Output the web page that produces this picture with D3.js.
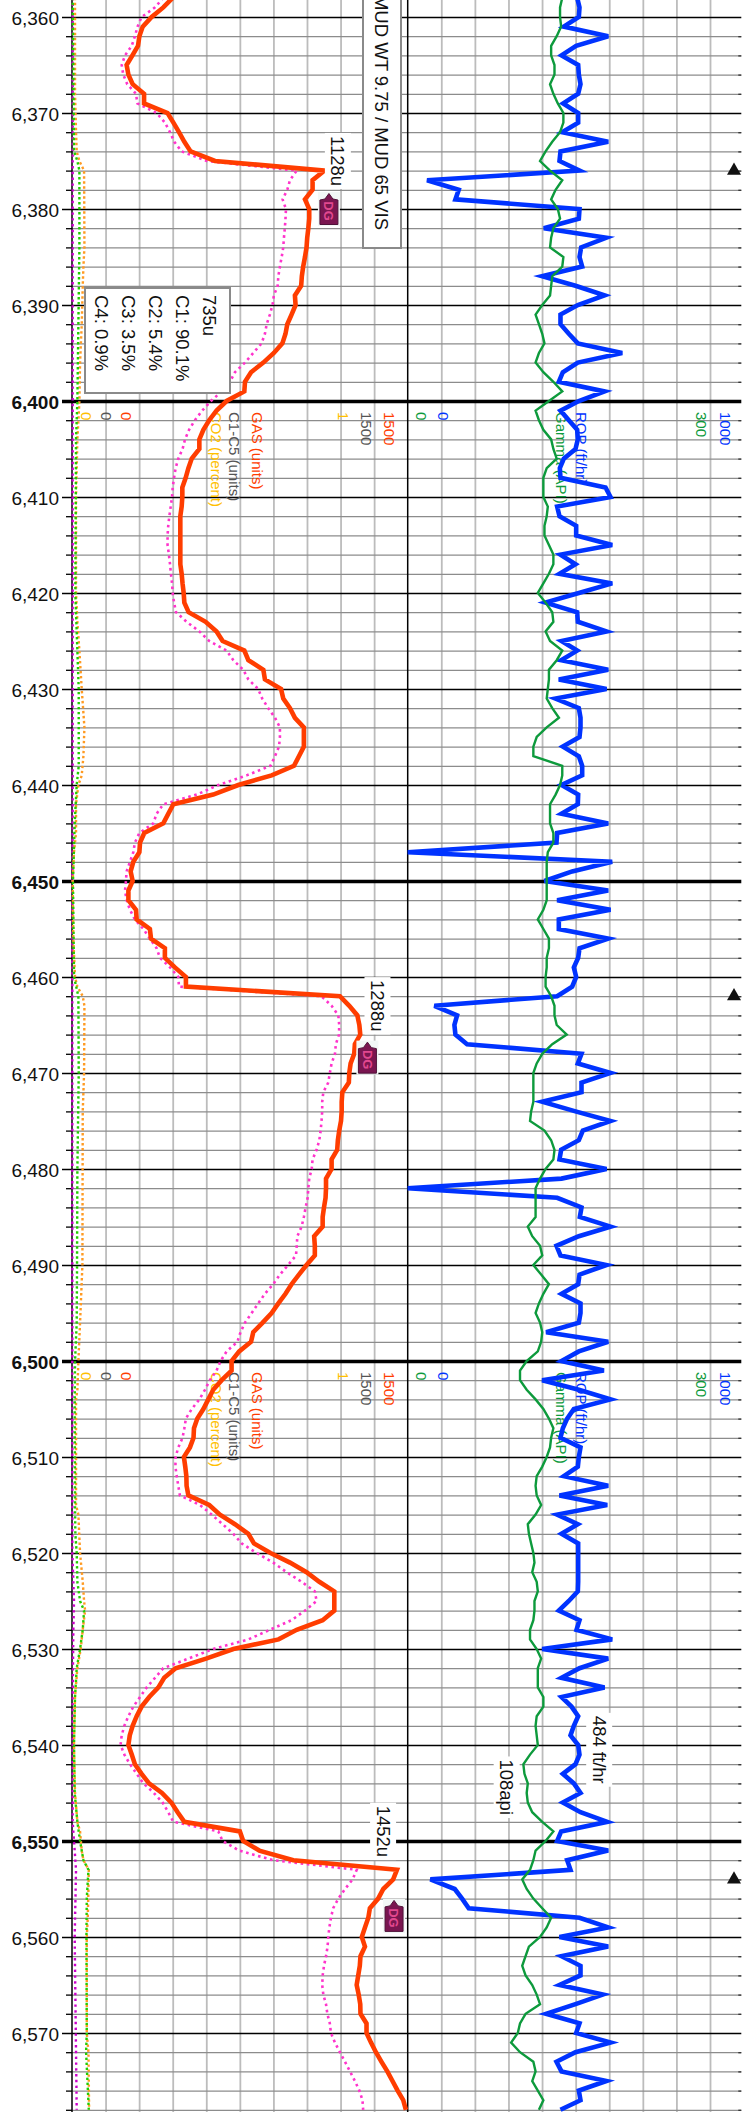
<!DOCTYPE html>
<html>
<head>
<meta charset="utf-8">
<title>Mud log</title>
<script src="https://cdn.jsdelivr.net/npm/d3@7"></script>
<style>
    body { margin: 0; background: #fff; }
    svg { display: block; }
    text { font-family: "Liberation Sans", Arial, sans-serif; }
</style>
</head>
<body>
<div id="chart"></div>
<script>
// every curve is sampled once per foot, first sample at 6358 ft, 10 values per row
const firstDepth = 6358;

const gasUnits = [
    450, 408, 356, 316, 301, 295, 270, 244, 252, 271,
    322, 322, 427, 453, 478, 502, 530, 639, 1128, 1075,
    1075, 1041, 1060, 1060, 1056, 1051, 1048, 1041, 1033, 1027,
    1024, 996, 999, 981, 962, 954, 940, 902, 855, 800,
    773, 770, 691, 646, 613, 587, 569, 569, 535, 520,
    508, 493, 493, 490, 484, 484, 484, 484, 484, 484,
    490, 494, 499, 502, 521, 597, 646, 673, 770, 788,
    855, 862, 934, 944, 974, 996, 1036, 1036, 1036, 1014,
    992, 892, 743, 631, 453, 430, 408, 323, 304, 301,
    274, 262, 271, 252, 252, 286, 289, 348, 353, 415,
    415, 460, 509, 509, 1197, 1239, 1275, 1284, 1288, 1264,
    1261, 1245, 1239, 1237, 1208, 1205, 1205, 1202, 1194, 1188,
    1185, 1160, 1160, 1135, 1135, 1133, 1126, 1120, 1120, 1082,
    1085, 1085, 1048, 1014, 981, 954, 922, 892, 852, 810,
    800, 747, 713, 713, 669, 631, 609, 587, 560, 545,
    543, 527, 500, 506, 511, 512, 520, 613, 661, 728,
    788, 813, 887, 974, 1048, 1105, 1172, 1172, 1172, 1120,
    1004, 923, 721, 599, 463, 412, 386, 345, 311, 289,
    271, 258, 252, 267, 281, 311, 344, 402, 444, 472,
    502, 750, 765, 837, 989, 1452, 1435, 1391, 1368, 1331,
    1324, 1309, 1295, 1309, 1289, 1286, 1279, 1272, 1281, 1288,
    1289, 1316, 1316, 1336, 1358, 1383, 1409, 1432, 1455, 1480,
    1492
];

const c1c5Units = [
    408, 371, 311, 293, 281, 267, 237, 222, 229, 247,
    286, 292, 378, 415, 438, 457, 490, 602, 1004, 974,
    962, 941, 956, 954, 951, 947, 944, 937, 929, 922,
    919, 902, 896, 884, 870, 862, 847, 810, 773, 728,
    706, 669, 621, 582, 549, 523, 505, 494, 475, 463,
    456, 450, 447, 441, 435, 430, 427, 427, 433, 438,
    442, 447, 450, 456, 465, 512, 569, 613, 691, 721,
    765, 788, 832, 850, 877, 907, 929, 929, 925, 907,
    887, 780, 654, 557, 408, 378, 363, 301, 281, 274,
    259, 244, 241, 237, 244, 259, 281, 319, 348, 378,
    393, 438, 475, 478, 1115, 1160, 1190, 1194, 1193, 1179,
    1175, 1160, 1152, 1145, 1123, 1118, 1118, 1115, 1111, 1105,
    1093, 1075, 1071, 1060, 1056, 1053, 1044, 1036, 1026, 1007,
    1004, 1001, 966, 929, 899, 862, 832, 803, 773, 753,
    739, 691, 664, 646, 616, 594, 569, 535, 509, 502,
    494, 475, 463, 462, 468, 475, 482, 572, 624, 673,
    721, 758, 825, 899, 959, 1026, 1085, 1093, 1041, 981,
    884, 788, 631, 520, 408, 371, 334, 304, 274, 252,
    234, 222, 217, 234, 259, 289, 319, 366, 405, 430,
    453, 654, 673, 747, 899, 1272, 1254, 1220, 1190, 1167,
    1157, 1150, 1145, 1142, 1135, 1126, 1120, 1118, 1123, 1135,
    1141, 1152, 1157, 1175, 1197, 1220, 1242, 1264, 1284, 1298,
    1301
];

const gammaApi = [
    139, 137, 137, 138, 134, 129, 129, 132, 132, 128,
    131, 135, 140, 140, 137, 130, 124, 119, 128, 139,
    133, 129, 135, 137, 131, 129, 128, 140, 139, 130,
    129, 128, 121, 115, 118, 121, 123, 118, 115, 122,
    131, 139, 127, 115, 118, 122, 129, 131, 134, 125,
    122, 122, 122, 126, 125, 123, 123, 127, 131, 131,
    127, 122, 117, 124, 130, 131, 124, 128, 139, 134,
    127, 127, 126, 125, 130, 136, 125, 116, 113, 113,
    139, 139, 137, 133, 128, 128, 128, 131, 131, 126,
    125, 125, 125, 125, 125, 122, 117, 122, 127, 127,
    125, 125, 124, 124, 129, 132, 132, 134, 143, 130,
    121, 116, 113, 113, 113, 113, 111, 110, 123, 129,
    132, 131, 124, 119, 115, 115, 115, 115, 108, 112,
    119, 121, 113, 120, 127, 122, 118, 115, 119, 121,
    120, 117, 107, 101, 101, 107, 115, 122, 127, 131,
    129, 128, 125, 121, 116, 115, 116, 120, 115, 108,
    109, 111, 113, 114, 112, 116, 117, 114, 114, 113,
    110, 110, 116, 120, 117, 117, 117, 122, 122, 116,
    115, 116, 117, 110, 104, 105, 108, 107, 108, 112,
    121, 131, 124, 115, 113, 110, 103, 107, 113, 121,
    129, 125, 119, 109, 106, 103, 106, 112, 116, 119,
    106, 101, 99, 93, 101, 113, 115, 112, 117, 122,
    118
];

const ropFtHr = [
    508, 515, 513, 468, 601, 505, 461, 511, 513, 518,
    511, 466, 511, 511, 463, 601, 458, 455, 515, 58,
    153, 143, 515, 513, 408, 595, 520, 515, 523, 403,
    503, 590, 510, 458, 458, 483, 510, 643, 510, 465,
    453, 590, 513, 458, 483, 508, 510, 503, 468, 456,
    458, 593, 608, 448, 455, 505, 505, 613, 458, 503,
    455, 613, 513, 413, 508, 510, 596, 461, 508, 460,
    601, 453, 596, 443, 513, 518, 518, 515, 465, 513,
    523, 523, 461, 511, 510, 461, 601, 448, 446, 0,
    613, 493, 410, 601, 448, 608, 453, 453, 601, 515,
    511, 498, 505, 493, 448, 80, 148, 140, 143, 178,
    521, 510, 608, 521, 521, 403, 503, 608, 525, 513,
    460, 455, 596, 461, 0, 448, 521, 516, 608, 513,
    446, 458, 596, 515, 511, 461, 518, 518, 513, 415,
    601, 513, 461, 588, 403, 513, 608, 498, 478, 465,
    458, 518, 513, 510, 468, 601, 455, 598, 448, 510,
    461, 511, 511, 511, 511, 511, 510, 483, 453, 515,
    506, 613, 403, 601, 515, 461, 590, 461, 491, 511,
    498, 488, 511, 515, 503, 465, 498, 518, 465, 518,
    598, 460, 448, 601, 478, 488, 68, 141, 163, 183,
    515, 601, 455, 601, 461, 518, 518, 455, 585, 503,
    415, 515, 505, 608, 503, 446, 461, 596, 513, 518,
    458
];

// the three low percent curves by the left edge barely move, so [depth, percent] knots
const co2Pct = [
    [6358, .009], [6368, .009], [6372, .012], [6374, .014], [6375, .022], [6376, .036], [6384, .037], [6386, .034],
    [6388, .032], [6392, .029], [6396, .024], [6400, .022], [6402, .019], [6404, .016], [6410, .012], [6420, .012],
    [6423, .016], [6426, .022], [6430, .029], [6434, .037], [6437, .034], [6439, .029], [6440, .019], [6442, .012],
    [6445, .012], [6447, .006], [6450, .002], [6456, .004], [6460, .009], [6461, .016], [6462, .032], [6463, .037],
    [6470, .036], [6474, .032], [6490, .031], [6496, .024], [6500, .019], [6503, .016], [6504, .012], [6515, .012],
    [6516, .019], [6520, .024], [6523, .032], [6525, .036], [6526, .039], [6528, .032], [6530, .026], [6532, .016],
    [6535, .009], [6540, .006], [6545, .009], [6548, .016], [6549, .024], [6551, .029], [6552, .034], [6553, .05],
    [6555, .049], [6558, .047], [6560, .044], [6570, .044], [6572, .049], [6578, .051]
];
const greenPct = [
    [6358, .002], [6374, .006], [6375, .016], [6376, .022], [6384, .022], [6400, .016], [6404, .012], [6420, .01],
    [6426, .016], [6430, .02], [6438, .02], [6440, .014], [6444, .008], [6450, .003], [6460, .006], [6462, .019],
    [6470, .02], [6480, .016], [6490, .015], [6496, .014], [6500, .009], [6505, .008], [6515, .009], [6518, .01],
    [6520, .014], [6523, .016], [6525, .024], [6526, .036], [6528, .032], [6530, .024], [6532, .014], [6535, .009],
    [6540, .006], [6545, .008], [6548, .016], [6550, .024], [6551, .029], [6552, .034], [6553, .049], [6556, .044],
    [6560, .043], [6570, .044], [6572, .042], [6575, .046], [6578, .05]
];
const purplePct = [
    [6358, .002], [6440, .002], [6460, .001], [6520, .001], [6525, .006], [6528, .004], [6535, .002], [6548, .002],
    [6553, .012], [6560, .008], [6578, .014]
];

// boxes and value labels, all written along the depth axis
const infoLines = ['735u', 'C1: 90.1%', 'C2: 5.4%', 'C3: 3.5%', 'C4: 0.9%'];
const mudNote = 'MUD WT 9.75 / MUD 65 VIS';
const gasPeaks = [
    { label: '1128u', depth: 6375, units: 1188 },
    { label: '1288u', depth: 6463, units: 1365 },
    { label: '1452u', depth: 6549, units: 1390 }
];
const readouts = [
    { label: '484 ft/hr', depth: 6540.5, rop: 574 },
    { label: '108api', depth: 6544.4, api: 89 }
];
const badges = [
    { depth: 6380, units: 1148 },
    { depth: 6468.4, units: 1320 },
    { depth: 6557.8, units: 1439 }
];
const pickDepths = [6376, 6462, 6554];
const headerDepths = [6400, 6500];

const width = 743,
    height = 2112,
    axisX = 72,
    midX = 407.7,
    endX = 741.3;

const depths = gasUnits.map((d, i) => firstDepth + i);

const y = d3.scaleLinear().domain([6360, 6570]).range([17, 2033]);
const xGas = d3.scaleLinear().domain([0, 1500]).range([axisX, midX]);
const xPct = d3.scaleLinear().domain([0, 1]).range([axisX, midX]);
const xRop = d3.scaleLinear().domain([0, 1000]).range([midX, endX]);
const xGamma = d3.scaleLinear().domain([0, 300]).range([midX, endX]);
const gridLeft = d3.scaleLinear().domain([0, 10]).range([axisX, midX]);
const gridRight = d3.scaleLinear().domain([0, 10]).range([midX, 743.6]);

const svg = d3.select('#chart')
    .append('svg')
    .attr('width', width)
    .attr('height', height);

// vertical grid
const hGrid = d3.range(depths[0], depths[depths.length - 1] + 1);
[gridLeft, gridRight].forEach((scale) => {
    svg.append('g')
        .attr('transform', 'translate(0,0)')
        .call(d3.axisBottom(scale).tickValues(d3.range(1, 10)).tickSize(height).tickFormat(''))
        .call((g) => g.select('.domain').remove())
        .selectAll('.tick line')
        .attr('stroke', '#bcbcbc')
        .attr('stroke-width', 1.8);
});

// 2 ft lines with a tick left of the axis
const minorDepths = hGrid.filter((d) => d % 2 === 0 && d % 10 !== 0);
svg.append('g')
    .attr('transform', 'translate(' + axisX + ',0)')
    .call(d3.axisLeft(y).tickValues(minorDepths).tickSize(6).tickFormat(''))
    .call((g) => g.select('.domain').remove())
    .call((g) => g.selectAll('.tick line')
        .attr('stroke', '#000')
        .attr('stroke-width', 1.3)
        .clone()
        .attr('x1', 0)
        .attr('x2', endX - axisX)
        .attr('stroke', '#8c8c8c'));

// same 2 ft lines end in a short dark tick on the right edge
svg.append('g')
    .attr('transform', 'translate(' + endX + ',0)')
    .call(d3.axisLeft(y).tickValues(minorDepths).tickSize(3).tickFormat(''))
    .call((g) => g.select('.domain').remove())
    .selectAll('.tick line')
    .attr('stroke', '#333')
    .attr('stroke-width', 1.3);

// 10 ft lines and labels, bold and heavier every 50 ft
const majorDepths = hGrid.filter((d) => d % 10 === 0);
svg.append('g')
    .attr('transform', 'translate(' + axisX + ',0)')
    .call(d3.axisLeft(y).tickValues(majorDepths).tickSize(10).tickPadding(3).tickFormat(d3.format(',')))
    .call((g) => g.select('.domain').remove())
    .call((g) => g.selectAll('.tick line')
        .attr('x2', endX - axisX)
        .attr('x1', -10)
        .attr('stroke', '#000')
        .attr('stroke-width', (d) => d % 50 === 0 ? 3.4 : 1.6))
    .call((g) => g.selectAll('.tick text')
        .attr('x', -13)
        .attr('dy', '0.38em')
        .attr('fill', '#111')
        .style('font-family', '"Liberation Sans", Arial, sans-serif')
        .style('font-size', '19px')
        .style('font-weight', (d) => d % 50 === 0 ? 'bold' : 'normal'));

// axis and track divider
[[axisX, 1.5], [midX, 1.5]].forEach((v) => {
    svg.append('line')
        .attr('x1', v[0]).attr('x2', v[0])
        .attr('y1', 0).attr('y2', height)
        .attr('stroke', '#000')
        .attr('stroke-width', v[1]);
});

// rotated track headers below the heavy 100 ft lines
const rotated = (sel, x, yy) => sel.attr('transform', 'translate(' + x + ',' + yy + ') rotate(90)');

const headers = [
    { t: '0', x: xPct(0) + 14, c: '#ffc000' },
    { t: '0', x: 106.7, c: '#555' },
    { t: '0', x: 126, c: '#ff3d00' },
    { t: 'CO2 (percent)', x: 216, c: '#ffc000' },
    { t: 'C1-C5 (units)', x: 234, c: '#555' },
    { t: 'GAS (units)', x: 257, c: '#ff3d00' },
    { t: '1', x: 343, c: '#ffc000' },
    { t: '1500', x: 366, c: '#555' },
    { t: '1500', x: 389, c: '#ff3d00' },
    { t: '0', x: 421, c: '#0d9a3c' },
    { t: '0', x: 443, c: '#0033ff' },
    { t: 'Gamma (API)', x: 561, c: '#0d9a3c' },
    { t: 'ROP (ft/hr)', x: 581, c: '#0033ff' },
    { t: '300', x: 701, c: '#0d9a3c' },
    { t: '1000', x: 725, c: '#0033ff' }
];
headerDepths.forEach((depth) => {
    headers.forEach((h) => {
        svg.append('text')
            .call(rotated, h.x, y(depth) + 11)
            .attr('dy', '0.35em')
            .attr('fill', h.c)
            .style('font-size', '15px')
            .text(h.t);
    });
});

// curves
const lineFrom = (xScale) => d3.line()
    .x((d) => xScale(d[1]))
    .y((d) => y(d[0]));
const zipped = (values) => values.map((v, i) => [depths[i], v]);

const drawCurve = (points, xScale, color, w, dash) => {
    svg.append('path')
        .datum(points)
        .attr('d', lineFrom(xScale))
        .attr('fill', 'none')
        .attr('stroke', color)
        .attr('stroke-width', w)
        .attr('stroke-linejoin', 'miter')
        .attr('stroke-dasharray', dash || null);
};

drawCurve(purplePct, xPct, '#cc00cc', 2.4, '2.4,3.4');
drawCurve(co2Pct, xPct, '#ff9a22', 2.4, '2.4,2.6');
drawCurve(greenPct, xPct, '#22cc00', 2.4, '2.4,2.6');
drawCurve(zipped(c1c5Units), xGas, '#ff33cc', 2.6, '2.6,3.6');
drawCurve(zipped(ropFtHr), xRop, '#0033ff', 4.6);
drawCurve(zipped(gammaApi), xGamma, '#0d9a3c', 2.4);
drawCurve(zipped(gasUnits), xGas, '#ff3d00', 4.6);

// pick markers on the right edge
svg.selectAll('.pick')
    .data(pickDepths)
    .enter()
    .append('path')
    .attr('class', 'pick')
    .attr('d', d3.symbol().type(d3.symbolTriangle).size(85))
    .attr('transform', (d) => 'translate(734,' + y(d) + ')')
    .attr('fill', '#111');

// info box
svg.append('rect')
    .attr('x', 85).attr('y', 288)
    .attr('width', 145).attr('height', 105)
    .attr('fill', '#fff')
    .attr('stroke', '#8a8a8a')
    .attr('stroke-width', 2);
infoLines.forEach((line, i) => {
    svg.append('text')
        .call(rotated, 209 - i * 26.8, 295)
        .attr('dy', '0.35em')
        .attr('fill', '#111')
        .style('font-size', '18.5px')
        .text(line);
});

// mud note, runs off the top of the page
svg.append('rect')
    .attr('x', 363).attr('y', -10)
    .attr('width', 38).attr('height', 258)
    .attr('fill', '#fff')
    .attr('stroke', '#8a8a8a')
    .attr('stroke-width', 2);
svg.append('text')
    .call(rotated, 381, 230)
    .attr('dy', '0.35em')
    .attr('text-anchor', 'end')
    .attr('fill', '#111')
    .style('font-size', '18.5px')
    .text(mudNote);

// value labels on white patches
const valueLabel = (d, x) => {
    const yy = y(d.depth);
    const t = svg.append('text')
        .call(rotated, x, yy)
        .attr('dy', '0.35em')
        .attr('text-anchor', 'middle')
        .attr('fill', '#111')
        .style('font-size', '18.5px')
        .text(d.label);
    const len = t.node().getComputedTextLength();
    svg.insert('rect', () => t.node())
        .attr('x', x - 13).attr('y', yy - len / 2 - 3)
        .attr('width', 26).attr('height', len + 6)
        .attr('fill', '#fff');
};
gasPeaks.forEach((d) => valueLabel(d, xGas(d.units)));
readouts.forEach((d) => valueLabel(d, d.api !== undefined ? xGamma(d.api) : xRop(d.rop)));

// DG flags
const badgeG = svg.selectAll('.badge')
    .data(badges)
    .enter()
    .append('g')
    .attr('class', 'badge')
    .attr('transform', (d) => 'translate(' + xGas(d.units) + ',' + y(d.depth) + ')');
badgeG.append('rect')
    .attr('x', -11).attr('y', -17)
    .attr('width', 22).attr('height', 34)
    .attr('fill', '#f2f7f6');
badgeG.append('path')
    .attr('d', 'M0,-15.5L4,-10L9,-9V15.5H-9V-9L-4,-10Z')
    .attr('fill', '#7a1650')
    .attr('stroke', '#4f1238');
badgeG.append('text')
    .attr('transform', 'translate(0,2) rotate(90)')
    .attr('dy', '0.35em')
    .attr('text-anchor', 'middle')
    .attr('fill', '#e2488f')
    .style('font-size', '13px')
    .style('font-weight', 'bold')
    .text('DG');
</script>
</body>
</html>
